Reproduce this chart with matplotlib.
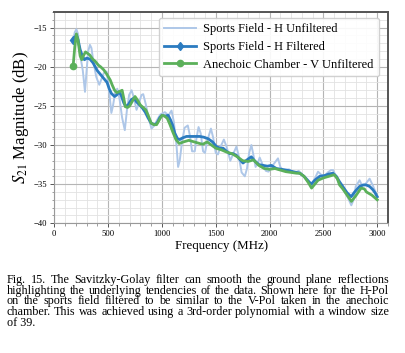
import matplotlib
matplotlib.use("Agg")
import matplotlib.pyplot as plt
from matplotlib.ticker import MultipleLocator
from matplotlib.font_manager import FontProperties

plt.rcParams['font.family'] = ['Liberation Serif', 'DejaVu Serif']
plt.rcParams['mathtext.fontset'] = 'stix'

# ---- data ----
unf_freq = [175, 190, 205, 220, 238, 265, 285, 300, 315, 331, 345, 365, 390, 418, 440,
            460, 486, 505, 530, 545, 565, 585, 605, 630, 655, 675, 695, 718, 740, 764,
            790, 810, 826, 850, 875, 903, 930, 955, 985, 1027, 1060, 1089, 1110, 1135,
            1150, 1165, 1185, 1210, 1240, 1260, 1280, 1305, 1320, 1340, 1360, 1382, 1400,
            1420, 1455, 1475, 1500, 1520, 1545, 1575, 1600, 1635, 1660, 1692, 1715, 1740,
            1770, 1790, 1810, 1831, 1850, 1870, 1890, 1908, 1935, 1965, 1990, 2010, 2040,
            2078, 2100, 2124, 2150, 2180, 2210, 2240, 2270, 2300, 2330, 2360, 2390, 2420,
            2450, 2480, 2510, 2540, 2570, 2590, 2610, 2640, 2670, 2700, 2730, 2759, 2780,
            2800, 2836, 2860, 2890, 2929, 2960, 2990, 3000]
unf_mag = [-16.6, -15.6, -15.2, -15.8, -18.3, -20.5, -23.2, -20.5, -18.0, -17.2, -17.6,
           -19.5, -21.3, -22.3, -21.5, -20.8, -20.6, -22.5, -25.9, -25.0, -23.3, -22.8,
           -24.0, -26.5, -28.1, -25.5, -23.6, -23.0, -24.0, -25.5, -24.5, -23.6, -23.5,
           -24.8, -26.5, -27.9, -27.5, -26.8, -26.1, -25.8, -26.2, -25.6, -27.0, -30.0,
           -32.8, -32.0, -29.8, -27.8, -27.5, -28.8, -30.8, -30.8, -29.2, -27.7, -28.5,
           -30.8, -31.0, -29.5, -27.9, -29.0, -31.0, -31.2, -30.2, -29.3, -30.2, -32.0,
           -31.2, -30.2, -31.5, -33.5, -34.0, -33.0, -31.0, -30.0, -31.3, -32.8, -32.3,
           -31.6, -32.5, -33.3, -33.4, -33.0, -32.4, -31.7, -32.8, -33.2, -33.2, -33.1,
           -33.4, -33.5, -33.3, -33.7, -34.2, -34.8, -35.0, -34.3, -33.4, -33.8, -34.0,
           -33.5, -33.2, -33.2, -33.8, -34.8, -35.3, -36.0, -36.8, -37.7, -37.0, -35.3,
           -34.5, -35.2, -35.0, -34.3, -35.2, -36.2, -36.6]

filt_freq = [175, 190, 205, 220, 240, 260, 280, 300, 330, 360, 380, 400, 430, 460, 490,
             510, 530, 560, 580, 600, 620, 645, 665, 690, 715, 740, 765, 795, 820, 845,
             870, 900, 930, 955, 980, 1000, 1030, 1058, 1080, 1100, 1120, 1145, 1165,
             1190, 1228, 1270, 1310, 1350, 1390, 1430, 1470, 1506, 1540, 1568, 1600,
             1630, 1660, 1690, 1720, 1753, 1790, 1830, 1860, 1900, 1940, 1980, 2016,
             2063, 2110, 2155, 2190, 2217, 2250, 2280, 2320, 2360, 2387, 2420, 2465,
             2510, 2550, 2588, 2620, 2650, 2690, 2720, 2758, 2790, 2835, 2870, 2897,
             2930, 2959, 2980, 3000]
filt_mag = [-16.6, -16.3, -15.9, -16.5, -17.8, -18.6, -19.1, -18.9, -19.0, -19.5, -20.0,
            -20.5, -21.0, -21.5, -22.0, -22.8, -23.4, -23.8, -23.6, -23.2, -23.6, -24.6,
            -25.1, -24.8, -24.2, -24.0, -24.5, -24.9, -25.3, -25.8, -26.5, -27.2, -27.4,
            -27.2, -26.5, -26.2, -26.3, -26.2, -26.8, -27.5, -28.5, -29.2, -29.3, -29.1,
            -28.9, -28.9, -28.9, -28.9, -29.0, -29.2, -29.6, -30.2, -30.4, -30.4, -30.8,
            -31.1, -31.1, -31.3, -31.8, -32.3, -31.9, -31.5, -32.0, -32.5, -32.6, -32.7,
            -32.6, -33.0, -33.1, -33.2, -33.3, -33.4, -33.5, -33.6, -34.0, -34.6, -35.0,
            -34.5, -34.0, -33.9, -33.7, -33.6, -34.0, -34.7, -35.5, -36.1, -36.6, -36.0,
            -35.3, -35.1, -35.1, -35.3, -35.7, -36.1, -36.6]

anec_freq = [175, 190, 205, 220, 240, 255, 270, 290, 310, 330, 355, 380, 410, 430, 460,
             490, 520, 540, 560, 580, 600, 630, 645, 660, 680, 700, 725, 750, 775, 800,
             825, 850, 875, 900, 925, 950, 975, 1000, 1025, 1050, 1075, 1100, 1130, 1160,
             1200, 1250, 1300, 1350, 1380, 1420, 1460, 1500, 1550, 1600, 1650, 1700, 1750,
             1800, 1850, 1900, 1950, 2000, 2050, 2100, 2150, 2200, 2250, 2280, 2320, 2360,
             2390, 2420, 2450, 2500, 2550, 2600, 2630, 2650, 2680, 2700, 2730, 2760, 2800,
             2850, 2880, 2900, 2950, 3000]
anec_mag = [-19.9, -17.5, -15.8, -16.6, -18.6, -19.1, -18.6, -18.1, -18.3, -18.5, -19.0,
            -19.3, -19.8, -20.0, -20.4, -21.0, -21.7, -22.4, -23.0, -23.3, -23.2, -23.0,
            -24.0, -25.1, -25.2, -25.0, -24.4, -23.8, -24.3, -24.9, -25.2, -25.5, -26.3,
            -27.2, -27.4, -27.4, -26.8, -26.2, -26.3, -26.6, -27.4, -28.3, -29.3, -29.8,
            -29.6, -29.4, -29.6, -29.8, -29.9, -29.6, -30.0, -30.4, -30.6, -30.9, -31.1,
            -31.5, -32.0, -32.1, -31.9, -32.6, -33.0, -33.1, -33.0, -33.2, -33.4, -33.5,
            -33.6, -33.6, -34.0, -34.8, -35.5, -35.0, -34.5, -34.2, -34.0, -33.8, -34.3,
            -35.1, -35.6, -36.0, -36.6, -37.2, -36.5, -35.5, -35.6, -36.0, -36.4, -37.0]

labels = ['Sports Field - H Unfiltered', 'Sports Field - H Filtered',
          'Anechoic Chamber - V Unfiltered']
x_label = 'Frequency (MHz)'
y_label = '$S_{21}$ Magnitude (dB)'
caption_lines = [
    "Fig. 15.  The Savitzky-Golay filter can smooth the ground plane reflections",
    "highlighting the underlying tendencies of the data. Shown here for the H-Pol",
    "on the sports field filtered to be similar to the V-Pol taken in the anechoic",
    "chamber. This was achieved using a 3rd-order polynomial with a window size",
    "of 39.",
]

# ---- figure ----
W, H = 406, 353
fig = plt.figure(figsize=(W / 100, H / 100), dpi=100)
ax = fig.add_axes([54.3 / W, 1 - 223.3 / H, (388 - 54.3) / W, (223.3 - 12) / H])

ax.plot(unf_freq, unf_mag, color='#aec7e8', lw=1.4, label=labels[0], zorder=2)
ax.plot(filt_freq, filt_mag, color='#2b7bc0', lw=2.0, marker='d', ms=4.5,
        markevery=[0], label=labels[1], zorder=3)
ax.plot(anec_freq, anec_mag, color='#5bb05a', lw=2.0, marker='o', ms=4.5,
        markevery=[0], label=labels[2], zorder=4)

ax.set_xlim(0, 3100)
ax.set_ylim(-40, -13)
ax.xaxis.set_major_locator(MultipleLocator(500))
ax.xaxis.set_minor_locator(MultipleLocator(100))
ax.yaxis.set_major_locator(MultipleLocator(5))
ax.yaxis.set_minor_locator(MultipleLocator(1))
ax.grid(which='major', color='#b5b5b5', lw=0.8)
ax.grid(which='minor', color='#e2e2e2', lw=0.6)
ax.set_axisbelow(True)
ax.tick_params(which='major', labelsize=6.2, length=3, width=0.7, color='#555555', pad=2)
ax.tick_params(which='minor', length=1.8, width=0.5, color='#777777')
for s in ['top', 'right']:
    ax.spines[s].set_color('#555555')
    ax.spines[s].set_linewidth(1.4)
for s in ['left', 'bottom']:
    ax.spines[s].set_color('#999999')
    ax.spines[s].set_linewidth(0.8)

ax.set_xlabel(x_label, fontsize=9.3, labelpad=1)
ax.set_ylabel(y_label, fontsize=12, labelpad=2)

leg = ax.legend(loc='upper right', fontsize=9, handlelength=2.5, handletextpad=0.6,
                framealpha=0.9, edgecolor='#cccccc', borderpad=0.45, labelspacing=0.45,
                borderaxespad=0.3, bbox_to_anchor=(0.985, 0.99))

# ---- justified caption ----
renderer = fig.canvas.get_renderer()
prop = FontProperties(family=['Liberation Serif'], size=8.7)
x0, x1 = 6.7, 389.0
ys = [280.2, 290.8, 301.4, 312.0, 322.6]
for i, (line, yc) in enumerate(zip(caption_lines, ys)):
    yf = 1 - yc / H
    if i == len(caption_lines) - 1:
        fig.text(x0 / W, yf, line, fontproperties=prop, va='center', ha='left')
        continue
    words = [w for w in line.split(' ') if w]
    widths = [renderer.get_text_width_height_descent(w, prop, ismath=False)[0]
              for w in words]
    space = (x1 - x0 - sum(widths)) / (len(words) - 1)
    x = x0
    for w, wd in zip(words, widths):
        fig.text(x / W, yf, w, fontproperties=prop, va='center', ha='left')
        x += wd + space

fig.savefig('out.png', dpi=100)
